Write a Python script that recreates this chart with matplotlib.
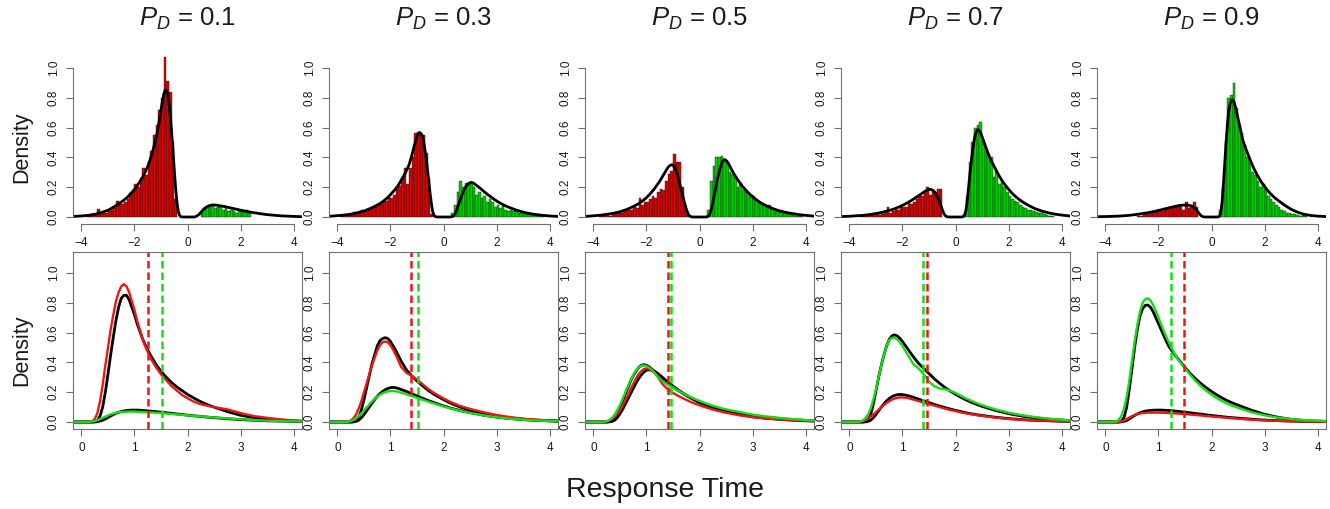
import numpy as np
import matplotlib.pyplot as plt

plt.rcParams['font.family'] = ['Liberation Sans', 'DejaVu Sans']
plt.rcParams['mathtext.fontset'] = 'custom'
plt.rcParams['mathtext.rm'] = 'Liberation Sans'
plt.rcParams['mathtext.it'] = 'Liberation Sans:italic'

# Условия
PD = ['0.1', '0.3', '0.5', '0.7', '0.9']

# Сетка времени реакции для кривых плотности
T = [0.0, 0.1, 0.2, 0.25, 0.3, 0.35, 0.4, 0.45, 0.5, 0.55, 0.6, 0.65, 0.7, 0.75,
     0.8, 0.85, 0.9, 0.95, 1.0, 1.05, 1.1, 1.15, 1.2, 1.3, 1.4, 1.5, 1.6, 1.7,
     1.8, 1.9, 2.0, 2.1, 2.2, 2.3, 2.4, 2.5, 2.75, 3.0, 3.25, 3.5, 3.75, 4.0, 4.3]

# Модель (чёрные кривые): отрицательная сторона (красные ответы)
black_neg = [
    [0, 0, 0, 0.002, 0.01, 0.04, 0.10, 0.20, 0.32, 0.45, 0.57, 0.68, 0.77, 0.83, 0.85, 0.85, 0.82, 0.77, 0.72, 0.66, 0.61, 0.56, 0.52,
     0.45, 0.39, 0.34, 0.30, 0.265, 0.235, 0.21, 0.185, 0.165, 0.145, 0.128, 0.113, 0.10,
     0.07, 0.045, 0.03, 0.018, 0.011, 0.007, 0.004],
    [0, 0, 0, 0, 0.002, 0.008, 0.03, 0.08, 0.15, 0.23, 0.31, 0.39, 0.45, 0.51, 0.545, 0.56, 0.566, 0.56, 0.54, 0.51, 0.48, 0.445, 0.41,
     0.35, 0.31, 0.275, 0.245, 0.215, 0.19, 0.17, 0.15, 0.132, 0.116, 0.102, 0.09, 0.08,
     0.058, 0.04, 0.028, 0.019, 0.013, 0.009, 0.005],
    [0, 0, 0, 0, 0.001, 0.004, 0.012, 0.03, 0.055, 0.085, 0.12, 0.155, 0.19, 0.225, 0.26, 0.29, 0.315, 0.335, 0.348, 0.35, 0.347, 0.34, 0.33,
     0.30, 0.27, 0.24, 0.215, 0.19, 0.168, 0.148, 0.13, 0.115, 0.101, 0.089, 0.079, 0.07,
     0.05, 0.035, 0.025, 0.018, 0.012, 0.008, 0.004],
    [0, 0, 0, 0, 0.001, 0.004, 0.012, 0.028, 0.05, 0.075, 0.1, 0.122, 0.142, 0.158, 0.17, 0.178, 0.183, 0.185, 0.184, 0.181, 0.177, 0.172, 0.166,
     0.154, 0.142, 0.13, 0.118, 0.107, 0.097, 0.087, 0.078, 0.07, 0.062, 0.055, 0.049, 0.044,
     0.032, 0.023, 0.016, 0.011, 0.008, 0.005, 0.003],
    [0, 0, 0, 0, 0.001, 0.004, 0.01, 0.02, 0.032, 0.044, 0.054, 0.062, 0.068, 0.073, 0.076, 0.078, 0.079, 0.08, 0.08, 0.08, 0.079, 0.078, 0.077,
     0.074, 0.07, 0.066, 0.062, 0.057, 0.053, 0.048, 0.044, 0.04, 0.036, 0.032, 0.029, 0.026,
     0.019, 0.013, 0.009, 0.006, 0.004, 0.003, 0.002],
]

# Модель (чёрные кривые): положительная сторона (зелёные ответы)
black_pos = [
    [0, 0, 0, 0, 0.002, 0.006, 0.012, 0.02, 0.03, 0.04, 0.05, 0.058, 0.065, 0.07, 0.074, 0.077, 0.079, 0.08, 0.08, 0.08, 0.079, 0.078, 0.076,
     0.073, 0.07, 0.066, 0.062, 0.058, 0.054, 0.05, 0.046, 0.042, 0.039, 0.035, 0.032, 0.029,
     0.022, 0.016, 0.012, 0.008, 0.006, 0.004, 0.002],
    [0, 0, 0, 0, 0.001, 0.004, 0.012, 0.028, 0.05, 0.075, 0.1, 0.125, 0.15, 0.172, 0.19, 0.205, 0.217, 0.225, 0.23, 0.232, 0.23, 0.225, 0.218,
     0.205, 0.19, 0.175, 0.16, 0.146, 0.133, 0.12, 0.108, 0.097, 0.087, 0.078, 0.07, 0.063,
     0.046, 0.033, 0.023, 0.016, 0.011, 0.007, 0.004],
    [0, 0, 0, 0, 0.002, 0.008, 0.025, 0.055, 0.095, 0.14, 0.185, 0.23, 0.275, 0.31, 0.34, 0.365, 0.38, 0.385, 0.38, 0.37, 0.355, 0.34, 0.32,
     0.29, 0.26, 0.235, 0.21, 0.19, 0.17, 0.152, 0.136, 0.121, 0.108, 0.096, 0.086, 0.077,
     0.057, 0.042, 0.031, 0.023, 0.016, 0.011, 0.006],
    [0, 0, 0, 0, 0.003, 0.015, 0.05, 0.12, 0.21, 0.3, 0.38, 0.45, 0.51, 0.555, 0.578, 0.585, 0.578, 0.562, 0.54, 0.515, 0.49, 0.465, 0.44,
     0.395, 0.36, 0.325, 0.29, 0.26, 0.232, 0.208, 0.186, 0.166, 0.148, 0.132, 0.118, 0.105,
     0.078, 0.056, 0.04, 0.028, 0.019, 0.013, 0.007],
    [0, 0, 0, 0, 0.005, 0.03, 0.1, 0.22, 0.36, 0.5, 0.62, 0.71, 0.76, 0.783, 0.785, 0.77, 0.74, 0.7, 0.66, 0.62, 0.58, 0.54, 0.505,
     0.455, 0.41, 0.365, 0.325, 0.29, 0.258, 0.23, 0.205, 0.182, 0.161, 0.143, 0.127, 0.113,
     0.08, 0.052, 0.032, 0.018, 0.01, 0.006, 0.003],
]

# Эмпирические плотности
red_kde = [
    [0, 0, 0.005, 0.02, 0.06, 0.14, 0.25, 0.38, 0.50, 0.62, 0.72, 0.81, 0.87, 0.91, 0.925, 0.91, 0.87, 0.81, 0.75, 0.68, 0.62, 0.56, 0.51,
     0.43, 0.37, 0.32, 0.28, 0.24, 0.21, 0.18, 0.16, 0.14, 0.125, 0.115, 0.107, 0.10,
     0.085, 0.06, 0.04, 0.028, 0.018, 0.01, 0.005],
    [0, 0, 0.003, 0.01, 0.025, 0.05, 0.09, 0.14, 0.2, 0.26, 0.32, 0.38, 0.43, 0.48, 0.515, 0.535, 0.54, 0.535, 0.515, 0.485, 0.45, 0.41, 0.37,
     0.33, 0.31, 0.285, 0.255, 0.225, 0.2, 0.178, 0.158, 0.14, 0.124, 0.11, 0.098, 0.088,
     0.066, 0.047, 0.033, 0.022, 0.015, 0.01, 0.005],
    [0, 0, 0.001, 0.004, 0.01, 0.02, 0.035, 0.055, 0.08, 0.11, 0.145, 0.18, 0.22, 0.255, 0.29, 0.32, 0.34, 0.355, 0.36, 0.355, 0.345, 0.33, 0.31,
     0.255, 0.22, 0.195, 0.175, 0.157, 0.14, 0.125, 0.112, 0.1, 0.089, 0.079, 0.07, 0.062,
     0.045, 0.033, 0.024, 0.018, 0.013, 0.009, 0.005],
    [0, 0, 0.002, 0.006, 0.013, 0.023, 0.036, 0.05, 0.066, 0.083, 0.1, 0.115, 0.128, 0.14, 0.15, 0.157, 0.162, 0.165, 0.165, 0.163, 0.16, 0.156, 0.151,
     0.141, 0.13, 0.12, 0.11, 0.1, 0.09, 0.081, 0.073, 0.065, 0.058, 0.052, 0.046, 0.041,
     0.03, 0.021, 0.015, 0.011, 0.008, 0.005, 0.003],
    [0, 0, 0, 0.001, 0.004, 0.01, 0.02, 0.03, 0.04, 0.047, 0.053, 0.057, 0.06, 0.062, 0.063, 0.063, 0.063, 0.063, 0.063, 0.062, 0.062, 0.061, 0.06,
     0.058, 0.056, 0.053, 0.05, 0.047, 0.044, 0.04, 0.037, 0.034, 0.031, 0.028, 0.025, 0.022,
     0.016, 0.011, 0.008, 0.005, 0.004, 0.003, 0.002],
]

green_kde = [
    [0, 0, 0.003, 0.007, 0.013, 0.02, 0.028, 0.036, 0.044, 0.051, 0.057, 0.062, 0.065, 0.067, 0.068, 0.069, 0.07, 0.07, 0.07, 0.069, 0.068, 0.067, 0.066,
     0.064, 0.062, 0.06, 0.057, 0.054, 0.051, 0.048, 0.045, 0.042, 0.039, 0.036, 0.033, 0.03,
     0.024, 0.018, 0.013, 0.009, 0.006, 0.004, 0.002],
    [0, 0, 0.002, 0.006, 0.014, 0.025, 0.04, 0.058, 0.078, 0.098, 0.118, 0.138, 0.155, 0.17, 0.183, 0.193, 0.2, 0.205, 0.208, 0.208, 0.206, 0.202, 0.197,
     0.186, 0.174, 0.162, 0.15, 0.138, 0.126, 0.115, 0.104, 0.094, 0.085, 0.076, 0.068, 0.061,
     0.045, 0.032, 0.022, 0.015, 0.01, 0.007, 0.004],
    [0, 0, 0.002, 0.006, 0.014, 0.028, 0.05, 0.08, 0.115, 0.155, 0.2, 0.24, 0.28, 0.315, 0.345, 0.365, 0.378, 0.38, 0.375, 0.365, 0.35, 0.33, 0.31,
     0.275, 0.25, 0.232, 0.21, 0.19, 0.172, 0.156, 0.142, 0.128, 0.115, 0.104, 0.094, 0.085,
     0.067, 0.05, 0.038, 0.028, 0.02, 0.013, 0.007],
    [0, 0, 0.003, 0.01, 0.025, 0.05, 0.09, 0.15, 0.22, 0.3, 0.38, 0.45, 0.51, 0.55, 0.565, 0.565, 0.555, 0.535, 0.51, 0.48, 0.45, 0.42, 0.39,
     0.36, 0.32, 0.27, 0.24, 0.225, 0.22, 0.21, 0.195, 0.176, 0.158, 0.142, 0.127, 0.113,
     0.085, 0.063, 0.046, 0.033, 0.023, 0.015, 0.008],
    [0, 0, 0.004, 0.015, 0.04, 0.09, 0.17, 0.28, 0.41, 0.54, 0.65, 0.74, 0.8, 0.825, 0.83, 0.815, 0.785, 0.745, 0.7, 0.655, 0.61, 0.57, 0.53,
     0.46, 0.405, 0.36, 0.315, 0.275, 0.24, 0.21, 0.183, 0.16, 0.14, 0.123, 0.108, 0.095,
     0.066, 0.045, 0.03, 0.02, 0.013, 0.008, 0.004],
]

# Медианы (пунктир)
cut_red = [1.25, 1.38, 1.40, 1.47, 1.49]
cut_green = [1.52, 1.52, 1.47, 1.39, 1.23]

# Гистограммы: столбцы шириной 0.1, центры |t| = 0.35, 0.45, ...
BIN_W = 0.1
hist_red = [
    [0.0, 0.12, 0.5, 0.84, 0.91, 1.07, 0.8, 0.72, 0.62, 0.55, 0.44, 0.37, 0.28, 0.33, 0.26, 0.2, 0.22, 0.17,
     0.16, 0.12, 0.1, 0.09, 0.1, 0.11, 0.06, 0.05, 0.04, 0.03, 0.035, 0.02, 0.055, 0.02, 0.02, 0.01, 0.01],
    [0.0, 0.02, 0.26, 0.43, 0.55, 0.55, 0.57, 0.56, 0.4, 0.33, 0.22, 0.33, 0.26, 0.21, 0.19, 0.15, 0.13, 0.14,
     0.11, 0.1, 0.09, 0.08, 0.07, 0.07, 0.06, 0.05, 0.04, 0.045, 0.04, 0.03, 0.035, 0.02, 0.02, 0.015, 0.015, 0.01],
    [0.0, 0.02, 0.08, 0.2, 0.37, 0.37, 0.42, 0.31, 0.29, 0.24, 0.18, 0.19, 0.17, 0.13, 0.14, 0.12, 0.1, 0.1,
     0.08, 0.13, 0.06, 0.07, 0.05, 0.05, 0.04, 0.035, 0.03, 0.025, 0.02, 0.02, 0.01, 0.015, 0.01, 0.01, 0.005],
    [0.0, 0.0, 0.19, 0.19, 0.17, 0.18, 0.15, 0.2, 0.16, 0.14, 0.15, 0.12, 0.1, 0.09, 0.1, 0.07, 0.065, 0.07,
     0.05, 0.06, 0.04, 0.03, 0.07, 0.025, 0.02, 0.015, 0.02, 0.03, 0.015, 0.02, 0.015, 0.015, 0.01],
    [0.0, 0.0, 0.07, 0.1, 0.08, 0.06, 0.1, 0.05, 0.07, 0.08, 0.07, 0.065, 0.06, 0.06, 0.05, 0.04, 0.045, 0.04,
     0.035, 0.03, 0.02, 0.02, 0.015, 0.01, 0.01],
]
hist_green = [
    [0.0, 0.0, 0.03, 0.06, 0.075, 0.08, 0.085, 0.06, 0.07, 0.065, 0.05, 0.06, 0.04, 0.045, 0.04, 0.03, 0.04,
     0.035, 0.04, 0.05, 0.03],
    [0.03, 0.08, 0.17, 0.24, 0.2, 0.23, 0.22, 0.22, 0.2, 0.15, 0.17, 0.13, 0.14, 0.1, 0.12, 0.1, 0.07, 0.08,
     0.06, 0.075, 0.05, 0.04, 0.05, 0.04, 0.04, 0.03, 0.025, 0.02, 0.03, 0.02, 0.015, 0.02, 0.01, 0.01, 0.015],
    [0.05, 0.24, 0.34, 0.4, 0.4, 0.41, 0.39, 0.37, 0.3, 0.29, 0.27, 0.2, 0.23, 0.18, 0.17, 0.16, 0.15, 0.14,
     0.12, 0.1, 0.09, 0.08, 0.07, 0.08, 0.06, 0.05, 0.04, 0.035, 0.03, 0.03, 0.02, 0.025, 0.015, 0.01, 0.01, 0.005],
    [0.02, 0.14, 0.37, 0.5, 0.6, 0.62, 0.64, 0.5, 0.44, 0.42, 0.4, 0.27, 0.31, 0.22, 0.24, 0.2, 0.17, 0.14,
     0.12, 0.11, 0.1, 0.08, 0.07, 0.06, 0.05, 0.045, 0.04, 0.035, 0.03, 0.025, 0.02, 0.015, 0.01, 0.005],
    [0.05, 0.2, 0.5, 0.8, 0.82, 0.9, 0.73, 0.62, 0.56, 0.48, 0.4, 0.38, 0.3, 0.28, 0.24, 0.2, 0.22, 0.18,
     0.14, 0.12, 0.1, 0.08, 0.07, 0.05, 0.04, 0.03, 0.03, 0.02, 0.02, 0.015, 0.01, 0.015, 0.01],
]

RED_BAR, GREEN_BAR = '#DD0000', '#00D000'
RED_LN, GREEN_LN = '#EE1515', '#15DD15'
AX_COL = '#707070'
TXT = '#1a1a1a'

W, H = 1330, 509
fig = plt.figure(figsize=(W / 100, H / 100), dpi=100)

t = np.array(T)
bins = 0.35 + BIN_W * np.arange(40)


def style(ax):
    ax.tick_params(direction='out', length=5, width=0.8, color=AX_COL,
                   labelsize=8.5, labelcolor=TXT, pad=4.5)
    for s in ax.spines.values():
        s.set_color(AX_COL)
        s.set_linewidth(0.8)


for i in range(5):
    x0 = 73 + 256 * i

    # верхний ряд: гистограммы
    ax = fig.add_axes([x0 / W, (H - 224.3) / H, 229 / W, 177.3 / H])
    hr = np.array(hist_red[i])
    hg = np.array(hist_green[i])
    br = bins[:len(hr)]
    bg = bins[:len(hg)]
    ax.bar(-br[hr > 0], hr[hr > 0], width=BIN_W, color=RED_BAR,
           edgecolor='#202020', linewidth=0.3)
    ax.bar(bg[hg > 0], hg[hg > 0], width=BIN_W, color=GREEN_BAR,
           edgecolor='#202020', linewidth=0.3)
    xs = np.concatenate([-t[::-1], t[1:]])
    ys = np.concatenate([np.array(black_neg[i])[::-1], np.array(black_pos[i])[1:]])
    ax.plot(xs, ys, color='black', lw=2.0)
    ax.set_xlim(-4.32, 4.32)
    ax.set_ylim(-0.049, 1.14)
    for s in ['top', 'right']:
        ax.spines[s].set_visible(False)
    ax.spines['left'].set_bounds(0, 1)
    ax.spines['bottom'].set_bounds(-4, 4)
    ax.set_xticks([-4, -2, 0, 2, 4], labels=['\u22124', '\u22122', '0', '2', '4'])
    ax.set_yticks([0, 0.2, 0.4, 0.6, 0.8, 1.0],
                  labels=['0.0', '0.2', '0.4', '0.6', '0.8', '1.0'],
                  rotation=90, va='center')
    style(ax)

    fig.text((x0 + 114.5) / W, 1 - 19 / H, r'$P_D$ = ' + PD[i],
             ha='center', va='center', fontsize=18.5, color=TXT)

    # нижний ряд: плотности
    ax = fig.add_axes([x0 / W, (H - 429) / H, 229 / W, 177 / H])
    tb = np.concatenate([[-0.3], t])
    for curve in (black_neg[i], black_pos[i]):
        ax.plot(tb, np.concatenate([[0.0], curve]), color='black', lw=2.0)
    ax.plot(tb, np.concatenate([[0.0], red_kde[i]]), color=RED_LN, lw=1.7)
    ax.plot(tb, np.concatenate([[0.0], green_kde[i]]), color=GREEN_LN, lw=1.7)
    ax.axvline(cut_red[i], color=RED_LN, lw=1.8, ls=(0, (3, 1.6)))
    ax.axvline(cut_green[i], color=GREEN_LN, lw=1.8, ls=(0, (3, 1.6)))
    ax.set_xlim(-0.16, 4.16)
    ax.set_ylim(-0.047, 1.141)
    ax.set_xticks([0, 1, 2, 3, 4], labels=['0', '1', '2', '3', '4'])
    ax.set_yticks([0, 0.2, 0.4, 0.6, 0.8, 1.0],
                  labels=['0.0', '0.2', '0.4', '0.6', '0.8', '1.0'],
                  rotation=90, va='center')
    style(ax)

fig.text(22 / W, 1 - 147 / H, 'Density', rotation=90, ha='center', va='center',
         fontsize=15.5, color=TXT)
fig.text(22 / W, 1 - 350 / H, 'Density', rotation=90, ha='center', va='center',
         fontsize=15.5, color=TXT)
fig.text(665 / W, 1 - 490 / H, 'Response Time', ha='center', va='center',
         fontsize=20.5, color=TXT)

fig.savefig('out.png', dpi=100)
